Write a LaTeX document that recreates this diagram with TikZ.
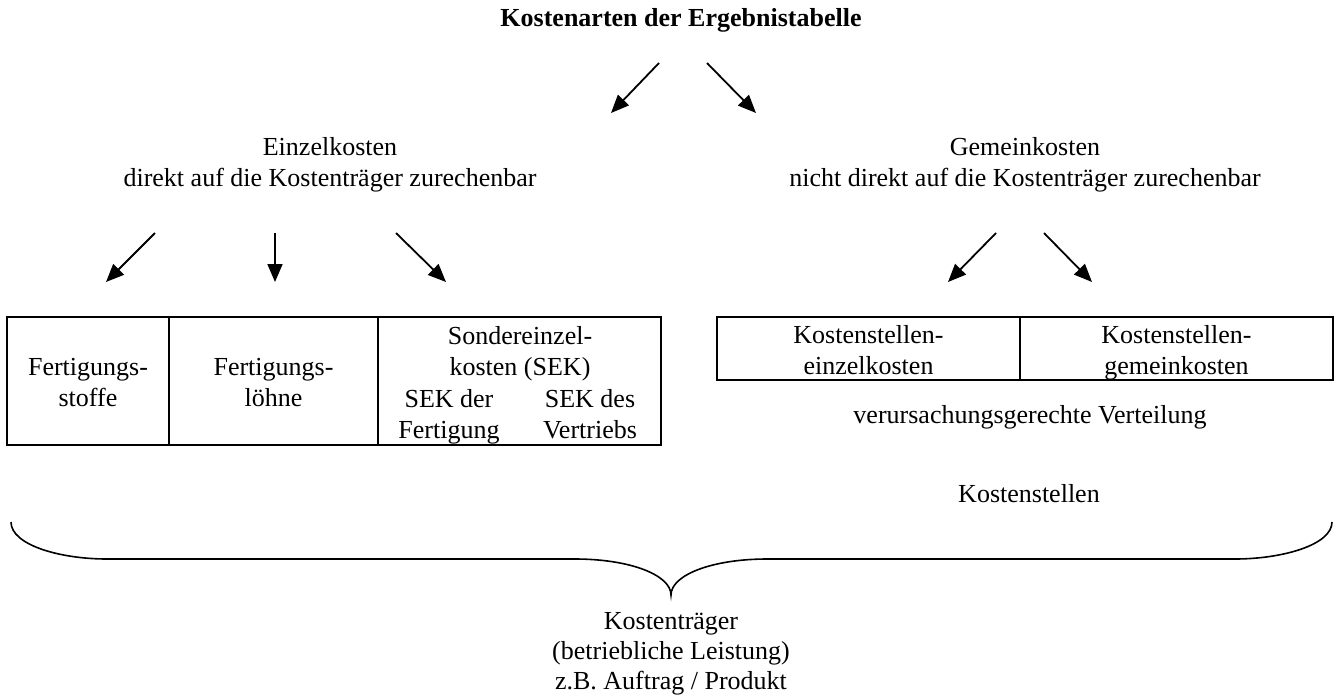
\documentclass[tikz,border=0pt]{standalone}
\usepackage{fontspec}
\setmainfont{Liberation Serif}
\usetikzlibrary{arrows.meta}
\tikzset{
  txt/.style={align=center, inner sep=0pt, font=\fontsize{26}{31}\selectfont},
  ttl/.style={inner sep=0pt, font=\fontsize{26}{31}\selectfont\bfseries},
  cell/.style={draw, line width=1.8pt, inner sep=0pt},
  arr/.style={line width=1.8pt, -{Triangle[length=18pt,width=15pt]}},
  brace/.style={line width=1.6pt}
}
\begin{document}
\begin{tikzpicture}[x=1pt,y=-1pt]
\useasboundingbox (0,0) rectangle (1342,697);
% title
\node[ttl] (title) at (681,20) {Kostenarten der Ergebnistabelle};
\coordinate (t1s) at (659,63); \coordinate (t1e) at (611,113);
\coordinate (t2s) at (707,63); \coordinate (t2e) at (756,113);
\draw[arr] (t1s) -- (t1e);
\draw[arr] (t2s) -- (t2e);
% headings
\node[txt] (einzel) at (330,164.5) {\strut Einzelkosten\\direkt auf die Kostenträger zurechenbar\strut};
\node[txt] (gemein) at (1025,164.5) {\strut Gemeinkosten\\nicht direkt auf die Kostenträger zurechenbar\strut};
% left arrows
\coordinate (l1s) at (155,233); \coordinate (l1e) at (106,282);
\coordinate (l2s) at (275,233); \coordinate (l2e) at (275,282);
\coordinate (l3s) at (396,233); \coordinate (l3e) at (446,282);
\draw[arr] (l1s) -- (l1e);
\draw[arr] (l2s) -- (l2e);
\draw[arr] (l3s) -- (l3e);
% right arrows
\coordinate (r1s) at (996,233); \coordinate (r1e) at (948,282);
\coordinate (r2s) at (1044,233); \coordinate (r2e) at (1092,282);
\draw[arr] (r1s) -- (r1e);
\draw[arr] (r2s) -- (r2e);
% left box
\node[cell, minimum width=162pt, minimum height=128pt] (c1) at (88,381) {};
\node[cell, minimum width=209pt, minimum height=128pt] (c2) at (273.5,381) {};
\node[cell, minimum width=283pt, minimum height=128pt] (c3) at (519.5,381) {};
\node[txt] (fs) at (88,385) {\strut Fertigungs-\\stoffe\strut};
\node[txt] (fl) at (273.5,385) {\strut Fertigungs-\\löhne\strut};
\node[txt] (sek) at (520,354) {\strut Sondereinzel-\\kosten (SEK)\strut};
\node[txt] (sekf) at (449,416.5) {\strut SEK der\\Fertigung\strut};
\node[txt] (sekv) at (590,416.5) {\strut SEK des\\Vertriebs\strut};
% right box
\node[cell, minimum width=303pt, minimum height=63pt] (k1) at (868.5,348.5) {};
\node[cell, minimum width=313pt, minimum height=63pt] (k2) at (1176.5,348.5) {};
\node[txt] (kse) at (868.5,353) {\strut Kostenstellen-\\einzelkosten\strut};
\node[txt] (ksg) at (1176.5,353) {\strut Kostenstellen-\\gemeinkosten\strut};
\node[txt] (vv) at (1030,417) {verursachungsgerechte Verteilung};
\node[txt] (ks) at (1029,494) {Kostenstellen};
% brace
\coordinate (bl) at (11,522);
\coordinate (bm) at (671,595);
\coordinate (br) at (1332,522);
\draw[brace] (bl) .. controls (11,545) and (60,559) .. (107,559) -- (575,559)
  .. controls (630,559) and (671,575) .. (bm)
  .. controls (671,575) and (712,559) .. (767,559) -- (1235,559)
  .. controls (1282,559) and (1332,545) .. (br);
% bottom
\node[txt, font=\fontsize{26}{30}\selectfont] (kt) at (671,653) {\strut Kostenträger\\(betriebliche Leistung)\\z.B. Auftrag / Produkt\strut};
\end{tikzpicture}
\end{document}
